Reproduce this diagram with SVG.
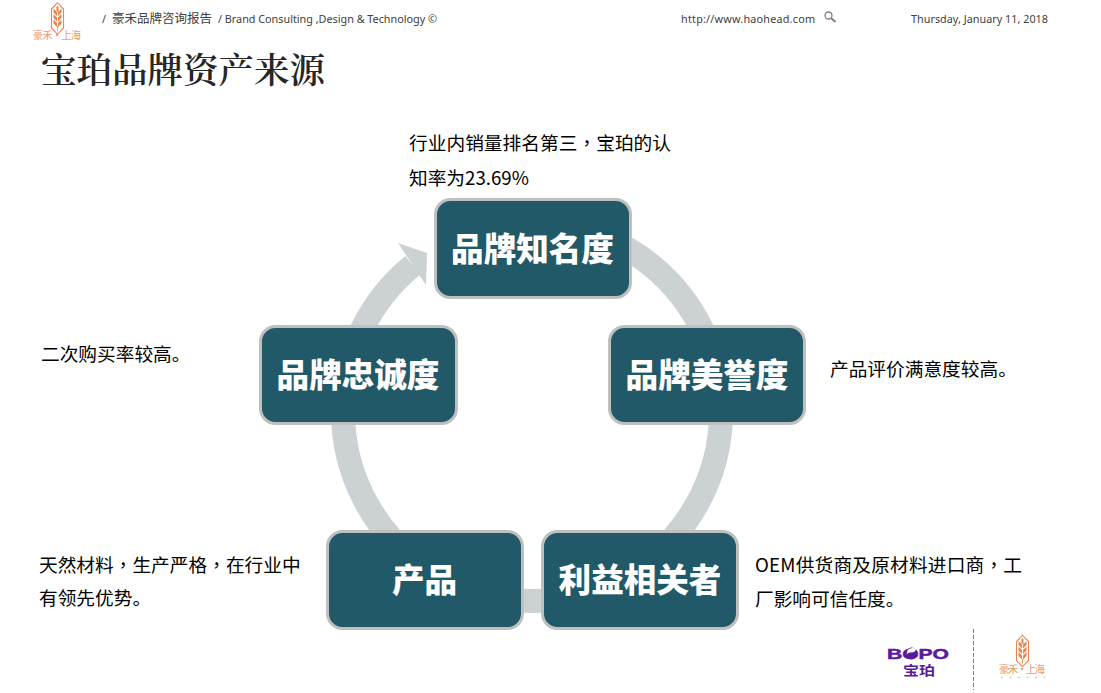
<svg xmlns="http://www.w3.org/2000/svg" width="1101" height="693" viewBox="0 0 1101 693">
<style>
.box{fill:#215968;stroke:#bfbfbf;stroke-width:3}
.lbl{font-family:"Noto Sans CJK SC","Liberation Sans",sans-serif;font-size:32.600px;font-weight:900;fill:#fff;text-anchor:middle}
.note{font-family:"Noto Sans CJK SC","Liberation Sans",sans-serif;font-size:18.700px;fill:#000}
.tc{font-family:"Noto Sans CJK TC",sans-serif}
.hdr{font-family:"Noto Sans","Noto Sans CJK SC",sans-serif;font-size:10.800px;fill:#404040}
.logo{font-family:"Noto Sans CJK SC",sans-serif;fill:#ec9a6c}
.o{fill:#e8854a}
.pur{fill:#5a1a9b}
</style>
<defs>
<g id="wheat">
<path d="M0.500 7 L6.500 0.700 L12.500 7 V26 L6.500 32.300 L0.500 26 Z" fill="none" stroke="#e8854a" stroke-width="1.100"/>
<path class="o" d="M2.500 6.500 L6 10 V14 L2.500 10.500 Z M10.500 6.500 L7 10 V14 L10.500 10.500 Z M2.500 12 L6 15.500 V19.500 L2.500 16 Z M10.500 12 L7 15.500 V19.500 L10.500 16 Z M2.500 17.500 L6 21 V25 L2.500 21.500 Z M10.500 17.500 L7 21 V25 L10.500 21.500 Z M5.500 5 L6.500 3.500 L7.500 5 V9 L6.500 10 L5.500 9 Z"/>
<path d="M6.500 24 V29" stroke="#e8854a" stroke-width="0.800"/>
</g>
</defs>
<rect width="1101" height="693" fill="#fff"/>
<g id="header">
<g id="logo-top">
<use href="#wheat" x="51" y="2"/>
<text class="logo" x="33" y="39" font-size="10" textLength="48">豪禾·上海</text>
</g>
<text class="hdr" x="102" y="23">/</text>
<text class="hdr" x="112" y="23" style="font-size:12.500px">豪禾品牌咨询报告</text>
<text class="hdr" x="218" y="23" textLength="219">/ Brand Consulting ,Design &amp; Technology ©</text>
<text class="hdr" x="681" y="23" textLength="134">http://www.haohead.com</text>
<g id="search-icon" fill="none" stroke="#808080"><circle cx="828.500" cy="15.500" r="3.500" stroke-width="1.300"/><path d="M831 18 L835.500 22" stroke-width="2"/></g>
<text class="hdr" x="911" y="23" textLength="137">Thursday, January 11, 2018</text>
<text id="title" x="41" y="83" font-family="'Noto Serif CJK SC','Noto Sans CJK SC',serif" font-size="35.500" font-weight="600" fill="#262626">宝珀品牌资产来源</text>
</g>
<g id="connectors">
<path d="M580 229.200 A189 189 0 1 1 412.910 265.240" fill="none" stroke="#ccd2d4" stroke-width="24"/>
<polygon points="398,243 427,253 426,285" fill="#ccd2d4"/>
</g>
<g id="node-awareness"><rect class="box" x="435.500" y="199.500" width="195" height="98" rx="15"/><text class="lbl" x="532.500" y="261">品牌知名度</text></g>
<g id="node-reputation"><rect class="box" x="609.500" y="326.500" width="195" height="97" rx="15"/><text class="lbl" x="707" y="387">品牌美誉度</text></g>
<g id="node-stakeholder"><rect class="box" x="542.500" y="531.500" width="195" height="97" rx="15"/><text class="lbl" x="640" y="592">利益相关者</text></g>
<g id="node-product"><rect class="box" x="327.500" y="531.500" width="195" height="97" rx="15"/><text class="lbl" x="424.500" y="592">产品</text></g>
<g id="node-loyalty"><rect class="box" x="260.500" y="326.500" width="196" height="97" rx="15"/><text class="lbl" x="358" y="387">品牌忠诚度</text></g>
<g id="notes">
<text class="note" x="409" y="150" textLength="262">行业内销量排名第三<tspan class="tc">，</tspan>宝珀的认</text>
<text class="note" x="409" y="185">知率为23.69%</text>
<text class="note" x="41" y="361">二次购买率较高。</text>
<text class="note" x="830" y="376">产品评价满意度较高。</text>
<text class="note" x="39" y="572">天然材料<tspan class="tc">，</tspan>生产严格<tspan class="tc">，</tspan>在行业中</text>
<text class="note" x="39" y="605">有领先优势。</text>
<text class="note" x="755" y="572" textLength="267">OEM供货商及原材料进口商<tspan class="tc">，</tspan>工</text>
<text class="note" x="755" y="606">厂影响可信任度。</text>
</g>
<g id="footer">
<text class="pur" x="887" y="659" stroke="#5a1a9b" stroke-width="0.500" font-family="'Liberation Sans',sans-serif" font-weight="700" font-size="15" textLength="62" lengthAdjust="spacingAndGlyphs">BOPO</text>
<circle class="pur" cx="911.500" cy="653.500" r="6"/>
<path d="M906.500 655 C909 650 914 655 916 649.500 C914 647 910 648 907.500 650 Z" fill="#fff"/>
<text class="pur" x="903" y="674.500" font-family="'Noto Sans CJK SC',sans-serif" font-weight="700" font-size="13" textLength="32" lengthAdjust="spacingAndGlyphs">宝珀</text>
<path d="M973.500 629 V690" stroke="#808080" stroke-dasharray="4 2" fill="none"/>
<g id="logo-bottom">
<use href="#wheat" x="1016" y="634.500"/>
<text class="logo" x="999" y="673" font-size="10.500" textLength="46">豪禾·上海</text>
<path d="M1001 677.500 H1045" stroke="#f2c4a8" stroke-width="1.500" stroke-dasharray="2 6.500" fill="none"/>
</g>
</g>
</svg>
